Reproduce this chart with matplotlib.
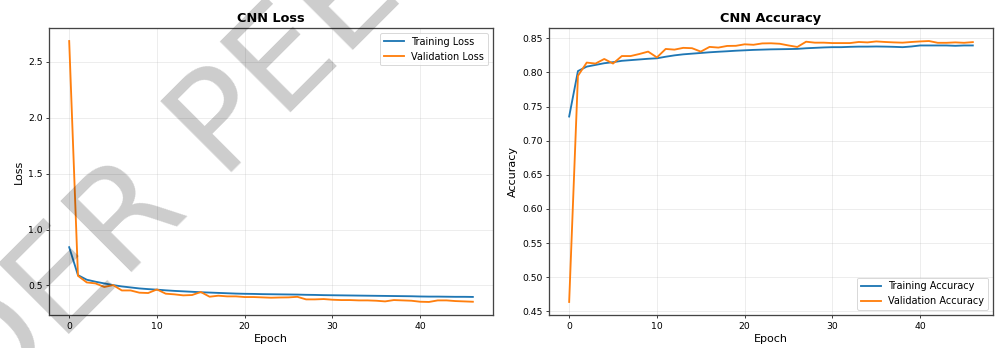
import matplotlib
matplotlib.use("Agg")
import matplotlib.pyplot as plt

# per-epoch training history of the CNN
epochs = list(range(47))

train_loss = [0.842, 0.592, 0.551, 0.533, 0.518, 0.503, 0.491, 0.482, 0.473, 0.467,
              0.462, 0.456, 0.451, 0.447, 0.443, 0.439, 0.436, 0.433, 0.430, 0.427,
              0.425, 0.424, 0.422, 0.421, 0.420, 0.419, 0.418, 0.416, 0.415, 0.413,
              0.412, 0.411, 0.410, 0.409, 0.408, 0.407, 0.406, 0.405, 0.404, 0.403,
              0.401, 0.400, 0.400, 0.399, 0.398, 0.398, 0.397]
val_loss = [2.687, 0.586, 0.527, 0.518, 0.486, 0.503, 0.455, 0.455, 0.435, 0.432,
            0.464, 0.426, 0.420, 0.411, 0.414, 0.441, 0.399, 0.408, 0.402, 0.402,
            0.396, 0.396, 0.393, 0.390, 0.392, 0.393, 0.398, 0.375, 0.375, 0.378,
            0.372, 0.369, 0.369, 0.366, 0.366, 0.363, 0.357, 0.369, 0.366, 0.363,
            0.354, 0.352, 0.366, 0.366, 0.360, 0.357, 0.354]

train_acc = [0.7354, 0.8020, 0.8085, 0.8110, 0.8135, 0.8150, 0.8170, 0.8180, 0.8190, 0.8200,
             0.8207, 0.8230, 0.8250, 0.8265, 0.8275, 0.8285, 0.8295, 0.8303, 0.8310, 0.8318,
             0.8324, 0.8330, 0.8334, 0.8338, 0.8340, 0.8342, 0.8345, 0.8354, 0.8360, 0.8366,
             0.8370, 0.8370, 0.8375, 0.8378, 0.8378, 0.8380, 0.8378, 0.8375, 0.8370, 0.8380,
             0.8395, 0.8395, 0.8395, 0.8395, 0.8390, 0.8395, 0.8395]
val_acc = [0.4637, 0.7950, 0.8144, 0.8130, 0.8197, 0.8130, 0.8240, 0.8240, 0.8270, 0.8305,
           0.8220, 0.8344, 0.8334, 0.8360, 0.8355, 0.8305, 0.8374, 0.8364, 0.8388, 0.8390,
           0.8412, 0.8405, 0.8425, 0.8427, 0.8420, 0.8395, 0.8373, 0.8450, 0.8436, 0.8436,
           0.8430, 0.8430, 0.8430, 0.8446, 0.8440, 0.8454, 0.8446, 0.8440, 0.8436, 0.8446,
           0.8454, 0.8460, 0.8434, 0.8434, 0.8440, 0.8434, 0.8444]

fig, (ax1, ax2) = plt.subplots(1, 2, figsize=(15, 5.231), dpi=998 / 15)
fig.subplots_adjust(left=0.0491, right=0.995, top=0.9195, bottom=0.0948, wspace=0.126)

ax1.plot(epochs, train_loss, color='#1f77b4', lw=2, label='Training Loss')
ax1.plot(epochs, val_loss, color='#ff7f0e', lw=2, label='Validation Loss')
ax1.set_title('CNN Loss', fontsize=14, fontweight='bold')
ax1.set_xlabel('Epoch', fontsize=12)
ax1.set_ylabel('Loss', fontsize=12)
ax1.legend(loc='upper right', fontsize=10.5)

ax2.plot(epochs, train_acc, color='#1f77b4', lw=2, label='Training Accuracy')
ax2.plot(epochs, val_acc, color='#ff7f0e', lw=2, label='Validation Accuracy')
ax2.set_title('CNN Accuracy', fontsize=14, fontweight='bold')
ax2.set_xlabel('Epoch', fontsize=12)
ax2.set_ylabel('Accuracy', fontsize=12)
ax2.legend(loc='lower right', fontsize=10.5)

for ax in (ax1, ax2):
    ax.grid(True, alpha=0.3)
    ax.tick_params(labelsize=10)
    for sp in ax.spines.values():
        sp.set_linewidth(1.4)
        sp.set_color('#444444')

# diagonal stamp across the figure
fig.text(0.366, 0.891, 'UNDER PEER REVIEW', fontsize=151, color='black', alpha=0.2,
         rotation=45, rotation_mode='anchor', ha='center', va='baseline', zorder=10)

fig.savefig('out.png', dpi=998 / 15)
